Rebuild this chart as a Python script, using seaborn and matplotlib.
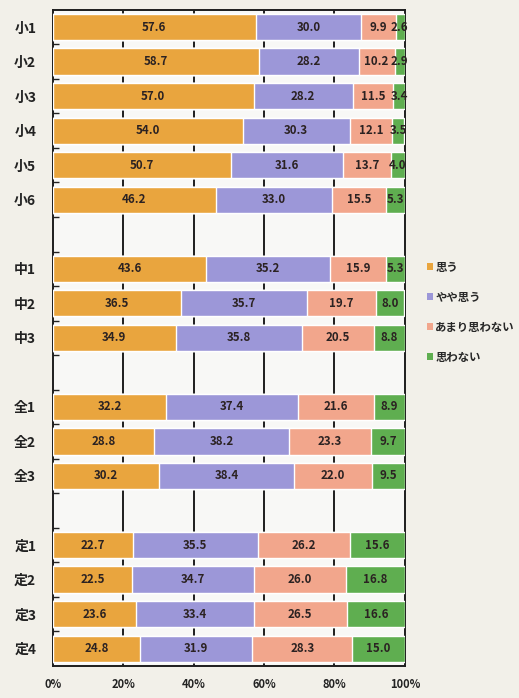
import numpy as np
import pandas as pd
import matplotlib.pyplot as plt
import seaborn as sns
from matplotlib.patches import Patch

# data
grades = ["小1", "小2", "小3", "小4", "小5", "小6",
          "中1", "中2", "中3",
          "全1", "全2", "全3",
          "定1", "定2", "定3", "定4"]
omou = [57.6, 58.7, 57.0, 54.0, 50.7, 46.2, 43.6, 36.5, 34.9, 32.2, 28.8, 30.2, 22.7, 22.5, 23.6, 24.8]
yaya = [30.0, 28.2, 28.2, 30.3, 31.6, 33.0, 35.2, 35.7, 35.8, 37.4, 38.2, 38.4, 35.5, 34.7, 33.4, 31.9]
amari = [9.9, 10.2, 11.5, 12.1, 13.7, 15.5, 15.9, 19.7, 20.5, 21.6, 23.3, 22.0, 26.2, 26.0, 26.5, 28.3]
omowanai = [2.6, 2.9, 3.4, 3.5, 4.0, 5.3, 5.3, 8.0, 8.8, 8.9, 9.7, 9.5, 15.6, 16.8, 16.6, 15.0]
series_names = ["思う", "やや思う", "あまり思わない", "思わない"]
colors = ["#E9A53E", "#9C97D8", "#F2A68C", "#5FAE50"]

# order with blank rows between school groups
order = ["小1", "小2", "小3", "小4", "小5", "小6", " ",
         "中1", "中2", "中3", "  ",
         "全1", "全2", "全3", "   ",
         "定1", "定2", "定3", "定4"]

df = pd.DataFrame({"grade": grades, "思う": omou, "やや思う": yaya,
                   "あまり思わない": amari, "思わない": omowanai})
cum = df[series_names].cumsum(axis=1)

sns.set_theme(style="white")
plt.rcParams["font.family"] = ["Noto Sans CJK JP", "DejaVu Sans"]

fig = plt.figure(figsize=(5.19, 6.98), dpi=100, facecolor="#F2F0E9")
ax = fig.add_axes([0.102, 0.046, 0.678, 0.94])
ax.set_facecolor("#F8F8F6")

# stacked bars: draw cumulative totals from the right
for name, col in zip(series_names[::-1], colors[::-1]):
    sns.barplot(x=cum[name], y=df["grade"], order=order, orient="h",
                color=col, saturation=1, width=0.76, ax=ax, zorder=3)

pos = {g: order.index(g) for g in grades}
for i, g in enumerate(grades):
    for name in series_names:
        v = df.loc[i, name]
        c = cum.loc[i, name] - v / 2
        if v < 5:
            c = min(c, 98.6)
        ax.text(c, pos[g], f"{v:.1f}", ha="center", va="center",
                fontsize=8.3, fontweight="bold", color="#2B2222", zorder=5)

ax.set_xlim(0, 100)
ax.set_ylim(len(order) - 0.5, -0.5)
ax.set_xticks([0, 20, 40, 60, 80, 100])
ax.set_xticklabels(["0%", "20%", "40%", "60%", "80%", "100%"],
                   fontsize=8, fontweight="bold", color="#222222")
ax.set_yticks(range(len(order)))
ax.set_yticklabels(order, fontsize=10, fontweight="bold", color="#222222")
ax.set_xlabel("")
ax.set_ylabel("")
ax.tick_params(axis="y", length=0, pad=12)
ax.tick_params(axis="x", length=0, pad=9)
ax.set_yticks(np.arange(0.5, len(order) - 0.5, 1), minor=True)
ax.tick_params(axis="y", which="minor", direction="in", length=4, width=1, color="#222222", left=True)

for x in [20, 40, 60, 80]:
    ax.axvline(x, color="#1E1E1E", lw=1.4, zorder=1)
for s in ax.spines.values():
    s.set_color("#1E1E1E")
    s.set_linewidth(1.4)

handles = [Patch(facecolor=c, edgecolor="none") for c in colors]
fig.legend(handles, series_names, loc="upper left", bbox_to_anchor=(0.818, 0.63),
           frameon=False, handlelength=0.5, handleheight=0.5, handletextpad=0.25,
           borderaxespad=0, borderpad=0.2,
           labelspacing=1.5, prop={"size": 8.2, "weight": "bold"})

fig.savefig("out.png", dpi=100, facecolor=fig.get_facecolor())
